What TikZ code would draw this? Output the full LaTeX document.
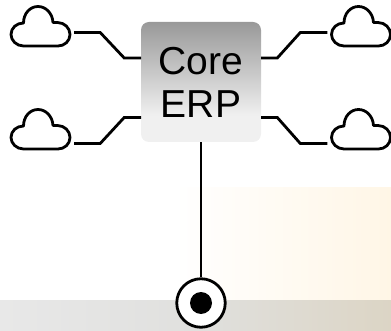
\documentclass[tikz,border=0pt]{standalone}
\usepackage{fontspec}
\setmainfont{Liberation Sans}
\definecolor{bandl}{HTML}{E8E8E8}
\definecolor{bandm}{HTML}{E0E0DE}
\definecolor{bandr}{HTML}{DCD5C5}
\definecolor{glow}{HTML}{FFF6E6}
\definecolor{coretop}{HTML}{999999}
\definecolor{corelow}{HTML}{F0F0F0}
\pgfdeclareverticalshading{coreshade}{100bp}{color(0bp)=(corelow); color(36bp)=(corelow); color(75bp)=(coretop); color(100bp)=(coretop)}
\tikzset{
  link/.style={line width=2.8pt,line join=miter},
  cloudslot/.style={minimum width=67pt,minimum height=10pt,inner sep=0pt},
  cloudicon/.pic={
    \draw[line width=2.8pt,line join=round]
      (13,40) .. controls (6,40) and (0.5,34.5) .. (0.5,28.5)
      .. controls (0.5,22) and (6,17) .. (13,17)
      .. controls (13,7.5) and (19.5,0.5) .. (27.5,0.5)
      .. controls (35.5,0.5) and (42,7.5) .. (42.5,16.5)
      -- (47,16.5)
      .. controls (54,16.5) and (59.5,22) .. (59.5,28.5)
      .. controls (59.5,35) and (54,40) .. (47.5,40)
      -- cycle;
  }
}
\begin{document}
\begin{tikzpicture}[x=1pt,y=-1pt]
\useasboundingbox (0,0) rectangle (391,331);
% backdrop
\fill[left color=white,right color=glow] (175,188) rectangle (391,300);
\fill[left color=bandl,right color=bandr,middle color=bandm] (0,300) rectangle (391,331);
% core box
\node[minimum width=120pt,minimum height=120pt,inner sep=0pt,rounded corners=8pt,
  shading=coreshade,align=center,font=\fontsize{39}{43}\selectfont] at (201,82) (core) {Core\\ERP};
\coordinate (wa) at (141,58);
\coordinate (wb) at (141,117.5);
\coordinate (ea) at (261,58);
\coordinate (eb) at (261,117.5);
% clouds
\pic at (10.5,6) {cloudicon};
\pic at (331,6) {cloudicon};
\pic at (10.5,109) {cloudicon};
\pic at (331,109) {cloudicon};
\node[cloudslot] at (40.5,32.5) (cla) {};
\node[cloudslot] at (361,32.5) (cra) {};
\node[cloudslot] at (40.5,143.5) (clb) {};
\node[cloudslot] at (361,143.5) (crb) {};
% links
\draw[link] (cla.east) -- ++(26,0) -- ++(24,25.5) -- (wa);
\draw[link] (clb.east) -- ++(26,0) -- ++(24,-26) -- (wb);
\draw[link] (cra.west) -- ++(-27,0) -- ++(-23,25.5) -- (ea);
\draw[link] (crb.west) -- ++(-27,0) -- ++(-23,-26) -- (eb);
% port
\node[circle,draw,line width=2.8pt,fill=white,minimum size=48.5pt,inner sep=0pt] at (201,303) (port) {};
\node[circle,fill=black,minimum size=22pt,inner sep=0pt] at (201,303) (dot) {};
\draw[link] (core.south) -- (port.north);
\end{tikzpicture}
\end{document}
